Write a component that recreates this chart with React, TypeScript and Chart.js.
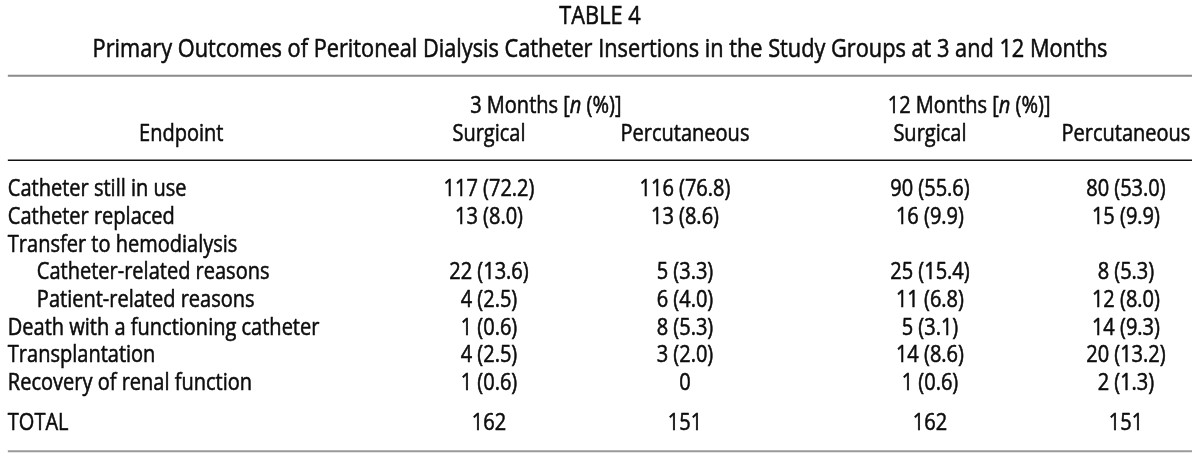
import React, { useEffect, useRef } from "react";
import { Chart, registerables } from "chart.js";

Chart.register(...registerables);

// ---------- data ----------
const titleText = "TABLE 4";
const subtitleText =
  "Primary Outcomes of Peritoneal Dialysis Catheter Insertions in the Study Groups at 3 and 12 Months";
const groupHeaders = ["3 Months", "12 Months"];
const columnHeaders = ["Surgical", "Percutaneous", "Surgical", "Percutaneous"];
const endpointHeader = "Endpoint";
const endpoints = [
  "Catheter still in use",
  "Catheter replaced",
  "Transfer to hemodialysis",
  "Catheter-related reasons",
  "Patient-related reasons",
  "Death with a functioning catheter",
  "Transplantation",
  "Recovery of renal function",
];
const endpointIndent = [0, 0, 0, 1, 1, 0, 0, 0];
const surgical3mN = [117, 13, null, 22, 4, 1, 4, 1];
const surgical3mPct = [72.2, 8.0, null, 13.6, 2.5, 0.6, 2.5, 0.6];
const percutaneous3mN = [116, 13, null, 5, 6, 8, 3, 0];
const percutaneous3mPct = [76.8, 8.6, null, 3.3, 4.0, 5.3, 2.0, null];
const surgical12mN = [90, 16, null, 25, 11, 5, 14, 1];
const surgical12mPct = [55.6, 9.9, null, 15.4, 6.8, 3.1, 8.6, 0.6];
const percutaneous12mN = [80, 15, null, 8, 12, 14, 20, 2];
const percutaneous12mPct = [53.0, 9.9, null, 5.3, 8.0, 9.3, 13.2, 1.3];
const totalLabel = "TOTAL";
const totals = [162, 151, 162, 151];

// ---------- layout (scale units) ----------
const COL_X = [0, 1, 2.25, 3.25];
const GROUP_X = [0.29, 2.45];
const LABEL_X = -2.455;
const ENDPOINT_HEADER_X = -1.57;
const RULE_LEFT = -2.455;
const RULE_RIGHT = 3.587;
const ROW_TITLE = -6.25;
const ROW_SUBTITLE = -5.05;
const RULE_TOP = -4.05;
const ROW_GROUP = -3;
const ROW_COLHEAD = -2;
const RULE_HEAD = -1;
const ROW_TOTAL = 8.45;
const RULE_BOTTOM = 9.5;
const X_MIN = -2.495;
const X_MAX = 3.628;
const Y_MIN = -6.787;
const Y_MAX = 9.711;
const INDENT_PX = 29;

const FONT_FAMILY = '"Open Sans", "Noto Sans", sans-serif';
const BODY_SIZE = 23;
const TITLE_SIZE = 25;
const SCALE_X = 0.87;
const TEXT_COLOR = "#0d0d0d";
const EMBOLDEN = 0.55;

type Seg = { text: string; italic?: boolean };

function fmt(n: number | null, p: number | null): string | null {
  if (n === null) return null;
  if (p === null) return String(n);
  return `${n} (${p.toFixed(1)})`;
}

function drawSegs(
  ctx: CanvasRenderingContext2D,
  segs: Seg[],
  x: number,
  y: number,
  align: "left" | "center",
  size: number
) {
  let w = 0;
  const widths = segs.map((s) => {
    ctx.font = `${s.italic ? "italic " : ""}${size}px ${FONT_FAMILY}`;
    const m = ctx.measureText(s.text).width;
    w += m;
    return m;
  });
  const start = align === "center" ? x - (w * SCALE_X) / 2 : x;
  const base = y + size * 0.714 * 0.5;
  ctx.save();
  ctx.translate(start, base);
  ctx.scale(SCALE_X, 1);
  ctx.fillStyle = TEXT_COLOR;
  ctx.strokeStyle = TEXT_COLOR;
  ctx.lineWidth = EMBOLDEN;
  ctx.lineJoin = "round";
  ctx.textBaseline = "alphabetic";
  ctx.textAlign = "left";
  let off = 0;
  segs.forEach((s, i) => {
    ctx.font = `${s.italic ? "italic " : ""}${size}px ${FONT_FAMILY}`;
    ctx.fillText(s.text, off, 0);
    ctx.strokeText(s.text, off, 0);
    off += widths[i];
  });
  ctx.restore();
}

const tablePlugin = {
  id: "tableText",
  afterDatasetsDraw(chart: any) {
    const ctx: CanvasRenderingContext2D = chart.ctx;
    const xs = chart.scales.x;
    const ys = chart.scales.y;
    const px = (v: number) => xs.getPixelForValue(v);
    const py = (v: number) => ys.getPixelForValue(v);

    // rules
    const rule = (v: number, color: string, lw: number) => {
      ctx.save();
      ctx.strokeStyle = color;
      ctx.lineWidth = lw;
      ctx.beginPath();
      ctx.moveTo(px(RULE_LEFT), py(v));
      ctx.lineTo(px(RULE_RIGHT), py(v));
      ctx.stroke();
      ctx.restore();
    };
    rule(RULE_TOP, "#8a8a8a", 2);
    rule(RULE_HEAD, "#111111", 1.4);
    rule(RULE_BOTTOM, "#9a9a9a", 2);

    // titles
    const cx = (chart.chartArea.left + chart.chartArea.right) / 2;
    drawSegs(ctx, [{ text: titleText }], cx, py(ROW_TITLE), "center", TITLE_SIZE);
    drawSegs(ctx, [{ text: subtitleText }], cx, py(ROW_SUBTITLE), "center", TITLE_SIZE);

    // headers
    groupHeaders.forEach((g, i) => {
      drawSegs(
        ctx,
        [{ text: `${g} [` }, { text: "n", italic: true }, { text: " (%)]" }],
        px(GROUP_X[i]),
        py(ROW_GROUP),
        "center",
        BODY_SIZE
      );
    });
    drawSegs(ctx, [{ text: endpointHeader }], px(ENDPOINT_HEADER_X), py(ROW_COLHEAD), "center", BODY_SIZE);
    columnHeaders.forEach((h, i) => {
      drawSegs(ctx, [{ text: h }], px(COL_X[i]), py(ROW_COLHEAD), "center", BODY_SIZE);
    });

    // cells (positions from dataset elements)
    chart.data.datasets.forEach((ds: any, di: number) => {
      const meta = chart.getDatasetMeta(di);
      meta.data.forEach((el: any, j: number) => {
        const raw = ds.data[j];
        const x = el.x + (raw.indent || 0) * INDENT_PX;
        drawSegs(ctx, [{ text: raw.label }], x, el.y, ds.align, BODY_SIZE);
      });
    });
  },
};

function columnData(ns: (number | null)[], ps: (number | null)[], col: number, total: number) {
  const pts: any[] = [];
  ns.forEach((n, i) => {
    const label = fmt(n, ps[i]);
    if (label !== null) pts.push({ x: COL_X[col], y: i, label });
  });
  pts.push({ x: COL_X[col], y: ROW_TOTAL, label: String(total) });
  return pts;
}

export default function App() {
  const ref = useRef<HTMLCanvasElement | null>(null);
  useEffect(() => {
    if (!ref.current) return;
    const labelPts: any[] = endpoints.map((t, i) => ({
      x: LABEL_X,
      y: i,
      label: t,
      indent: endpointIndent[i],
    }));
    labelPts.push({ x: LABEL_X, y: ROW_TOTAL, label: totalLabel, indent: 0 });

    const common = { pointRadius: 0, pointHoverRadius: 0, showLine: false };
    const chart = new Chart(ref.current, {
      type: "scatter",
      data: {
        datasets: [
          { ...common, label: "Endpoint", data: labelPts, align: "left" } as any,
          { ...common, label: "3m Surgical", data: columnData(surgical3mN, surgical3mPct, 0, totals[0]), align: "center" } as any,
          { ...common, label: "3m Percutaneous", data: columnData(percutaneous3mN, percutaneous3mPct, 1, totals[1]), align: "center" } as any,
          { ...common, label: "12m Surgical", data: columnData(surgical12mN, surgical12mPct, 2, totals[2]), align: "center" } as any,
          { ...common, label: "12m Percutaneous", data: columnData(percutaneous12mN, percutaneous12mPct, 3, totals[3]), align: "center" } as any,
        ],
      },
      options: {
        animation: false,
        responsive: false,
        events: [],
        layout: { padding: 0 },
        plugins: { legend: { display: false }, tooltip: { enabled: false }, title: { display: false } },
        scales: {
          x: { type: "linear", min: X_MIN, max: X_MAX, display: false },
          y: { type: "linear", min: Y_MIN, max: Y_MAX, reverse: true, display: false },
        },
      },
      plugins: [tablePlugin],
    });
    const fonts: any = (document as any).fonts;
    if (fonts && fonts.load) {
      Promise.all([
        fonts.load(`${BODY_SIZE}px "Open Sans"`),
        fonts.load(`italic ${BODY_SIZE}px "Open Sans"`),
      ]).then(() => chart.draw()).catch(() => {});
    }
    return () => chart.destroy();
  }, []);

  return (
    <div style={{ position: "absolute", left: 0, top: 0, width: 1200, height: 457, background: "#fff" }}>
      <canvas ref={ref} width={1200} height={457} style={{ display: "block" }} />
    </div>
  );
}
